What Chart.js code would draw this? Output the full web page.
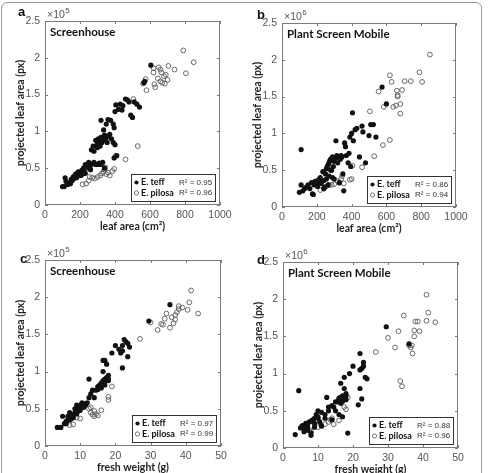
<!DOCTYPE html>
<html>
<head>
<meta charset="utf-8">
<script src="https://cdn.jsdelivr.net/npm/chart.js@4.4.0/dist/chart.umd.min.js"></script>
<style>
  html, body { margin: 0; padding: 0; background: #fff; }
  #fig { position: relative; width: 488px; height: 473px; overflow: hidden; }
  #frame { position: absolute; left: 1px; top: 2px; width: 481px; height: 520px;
           border: 1.5px solid #9a9a9a; border-radius: 6px; box-sizing: border-box; }
  .panel { position: absolute; }
</style>
</head>
<body>
<div id="fig">
  <div id="frame"></div>
  <div class="panel" id="pa"><canvas id="ca"></canvas></div>
  <div class="panel" id="pb"><canvas id="cb"></canvas></div>
  <div class="panel" id="pc"><canvas id="cc"></canvas></div>
  <div class="panel" id="pd"><canvas id="cd"></canvas></div>
</div>
<script>
// --- data (y in units of the axis multiplier) ---
// a: Screenhouse, leaf area vs projected area (x1e5)
const aTeffX = [100,110,115,120,130,140,145,150,155,160,165,170,175,180,185,190,195,200,205,210,215,220,225,230,230,240,250,250,260,260,270,280,290,300,310,320,330,340,
  265,275,280,290,290,300,300,305,310,315,320,325,330,340,345,350,355,360,370,380,390,400,395,410,
  320,335,350,360,375,390,395, 400,405,420,430,440,445,460,470,480,490,500,510,525,540, 565,570,605];
const aTeffY = [0.25,0.25,0.37,0.32,0.28,0.30,0.29,0.35,0.33,0.38,0.36,0.40,0.42,0.37,0.43,0.45,0.40,0.44,0.40,0.47,0.42,0.50,0.45,0.55,0.43,0.52,0.58,0.50,0.54,0.48,0.56,0.58,0.55,0.55,0.57,0.55,0.58,0.50,
  0.75,0.80,0.73,0.80,0.88,0.85,0.78,0.90,0.88,0.80,0.92,0.85,0.90,0.95,0.88,0.92,0.85,0.93,0.96,0.90,0.85,0.82,0.64,0.67,
  1.15,1.02,1.10,1.16,1.15,1.10,1.05, 1.27,1.36,1.30,1.37,1.29,1.35,1.44,1.43,1.40,1.22,1.19,1.40,1.37,1.33, 1.66,1.68,1.90];
const aPilX = [215,235,250,255,270,285,300,315,325,335,340,345,350,360,370,385,395,405,460,530,
  505,560,575,580,620,620,625,630,645,650,660,660,665,670,680,685,690,700,705,740,790,805,850];
const aPilY = [0.28,0.29,0.33,0.38,0.37,0.36,0.38,0.40,0.43,0.45,0.48,0.51,0.42,0.44,0.40,0.46,0.49,0.67,0.62,0.80,
  1.44,1.65,1.71,1.56,1.80,1.86,1.64,1.60,1.72,1.87,1.84,1.68,1.80,1.66,1.75,1.65,1.77,1.70,1.89,1.84,2.10,1.79,1.94];

// b: Plant Screen Mobile, leaf area (x1e6)
const bTeffX = [100,110,110,120,130,140,150,160,170,175,180,185,190,200,205,210,215,220,225,230,235,240,240,245,250,255,255,260,265,265,
  270,270,275,280,280,285,290,290,295,300,300,305,310,315,320,325,330,330,335,340,345,350,355,360,365,370,380,385,390,395,
  400,405,410,420,430,445,460,465,480,500,510,525,540,575,600];
const bTeffY = [0.20,0.30,0.78,0.22,0.25,0.27,0.30,0.25,0.33,0.18,0.17,0.30,0.35,0.33,0.28,0.37,0.36,0.40,0.32,0.35,0.48,0.25,0.36,0.27,0.45,0.52,0.38,0.55,0.57,0.30,
  0.60,0.42,0.63,0.65,0.50,0.50,0.68,0.40,0.55,0.62,0.38,0.66,0.90,0.70,0.60,0.68,0.67,0.33,0.65,0.70,0.68,0.45,0.22,0.87,0.82,0.70,0.60,0.73,0.95,0.55,
  1.00,1.28,0.90,1.05,1.07,0.68,1.10,1.02,0.60,0.97,1.12,1.12,0.95,1.63,1.40];
const bPilX = [220,240,255,270,285,300,320,330,340,345,355,390,400,405,460,530,
  505,555,580,585,620,620,630,640,655,660,665,665,680,680,690,705,740,790,805,850];
const bPilY = [0.23,0.25,0.28,0.30,0.30,0.31,0.35,0.33,0.38,0.42,0.32,0.37,0.38,0.56,0.54,0.69,
  1.30,1.57,0.84,1.36,0.91,1.79,1.70,1.36,1.38,1.58,1.50,1.52,1.40,1.27,1.59,1.71,1.71,1.83,1.70,2.07];

// c: Screenhouse, fresh weight (x1e5)
const cTeffX = [3.5,4.5,5,5.5,6,6,6.5,7,7,7,7.5,8,8,8.5,9,9,9,9.5,10,10,10.5,11,11.5,12,12.5,12.5,13,13.5,14,14.5,
  15,15.5,16,16,16.5,16.5,16.5,17,17,17,17.5,17.5,18,18,19,20,21,21.5,22,22,22,22.5,23,23.5,23.5,24,29.5,35.5,
  8.5,9.5,10,11,6.5,7.5,16.5,17,17.5,18,16,15];
const cTeffY = [0.25,0.25,0.40,0.30,0.33,0.30,0.35,0.38,0.35,0.45,0.42,0.40,0.38,0.45,0.48,0.43,0.55,0.52,0.55,0.48,0.58,0.57,0.55,0.58,0.65,0.90,0.70,0.75,0.65,0.75,
  0.80,0.82,0.85,0.78,0.88,1.00,1.15,0.90,1.15,0.82,0.92,1.10,0.95,0.88,1.25,1.35,1.30,1.25,1.05,1.35,1.28,1.43,1.40,1.38,1.20,1.33,1.68,1.90,
  0.50,0.47,0.52,0.52,0.40,0.37,0.85,0.87,0.88,0.90,0.83,0.76];
const cPilX = [7,8,9,10,12.5,13,13,13.5,14,14,14.5,15,16,18,18,19,27,30,32,33,33.5,34,34.5,35.5,36,36.5,37,37,37.5,38,38,39,40.5,41,41.5,43.5];
const cPilY = [0.28,0.29,0.38,0.37,0.50,0.45,0.52,0.42,0.40,0.47,0.43,0.41,0.48,0.62,0.66,0.80,1.44,1.66,1.56,1.64,1.63,1.71,1.78,1.59,1.73,1.65,1.70,1.76,1.80,1.88,1.84,1.86,1.83,1.93,2.09,1.78];

// d: Plant Screen Mobile, fresh weight (x1e6)
const dTeffX = [3.5,4.5,5,5.5,6,6.5,7,7,7.5,8,8,8.5,9,9,9.5,10,10,10.5,11,11,12,12,12.5,13,13,14,14,14.5,15,15,
  15.5,16,16,16.5,16.5,17,17,17.5,17.5,17.5,18,18,18.5,19,20,21.5,22,22,22,22.5,22.5,23,23,23.5,24,29.5,36,
  6,7,8,9,10,16,17,18,17,16.5];
const dTeffY = [0.18,0.77,0.27,0.30,0.22,0.33,0.28,0.24,0.35,0.17,0.20,0.38,0.33,0.28,0.45,0.50,0.40,0.35,0.48,0.30,0.45,0.40,0.68,0.55,0.50,0.57,0.38,0.55,0.62,0.50,
  0.62,0.65,0.45,0.87,0.60,0.70,0.42,0.68,0.80,0.95,0.73,0.65,0.20,1.00,1.10,0.58,0.80,1.27,1.05,1.07,0.66,1.10,1.15,0.95,0.93,1.63,1.40,
  0.28,0.32,0.36,0.40,0.42,0.67,0.66,0.70,0.63,0.68];
const dPilX = [7.5,8,10,11,12,13,13.5,14,14.5,16,17.5,18,18.5,26.5,30,32,33,33.5,34,34.5,36,36.5,36.8,37,37.5,37.5,37.8,38.5,39,41,41,41.5,43.5];
const dPilY = [0.24,0.22,0.28,0.29,0.32,0.35,0.38,0.40,0.32,0.37,0.55,0.52,0.68,1.29,1.48,1.35,1.57,0.90,0.83,1.78,1.38,1.35,1.38,1.27,1.58,1.50,1.70,1.70,1.57,1.71,2.06,1.82,1.69];

const yTicksMax = 2.5;
const speciesNames = ['E. teff', 'E. pilosa'];

// decorations MATLAB draws that Chart.js doesn't: full box, inner ticks, labels, legend box
const deco = {
  id: 'deco',
  afterDraw(chart, args, o) {
    const { ctx, chartArea: a, scales: { x, y } } = chart;
    ctx.save();
    ctx.strokeStyle = '#7a7a7a';
    ctx.lineWidth = 1;
    ctx.strokeRect(a.left + 0.5, a.top + 0.5, a.right - a.left - 1, a.bottom - a.top - 1);
    ctx.beginPath();
    x.ticks.forEach(t => {
      const px = Math.round(x.getPixelForValue(t.value)) + 0.5;
      ctx.moveTo(px, a.bottom); ctx.lineTo(px, a.bottom - 3);
      ctx.moveTo(px, a.top); ctx.lineTo(px, a.top + 3);
    });
    y.ticks.forEach(t => {
      const py = Math.round(y.getPixelForValue(t.value)) + 0.5;
      ctx.moveTo(a.left, py); ctx.lineTo(a.left + 3, py);
      ctx.moveTo(a.right, py); ctx.lineTo(a.right - 3, py);
    });
    ctx.stroke();

    // multiplier
    ctx.fillStyle = '#555';
    ctx.textBaseline = 'middle';
    ctx.textAlign = 'left';
    ctx.font = '10.5px "Liberation Sans"';
    const ex = a.left + 2, ey = a.top - 6;
    ctx.fillText('\u00d710', ex, ey);
    const w10 = ctx.measureText('\u00d710').width;
    ctx.font = '8px "Liberation Sans"';
    ctx.fillText(o.exp, ex + w10 + 0.5, ey - 4);

    // panel letter
    ctx.fillStyle = '#111';
    ctx.font = 'bold 13px "Liberation Sans"';
    ctx.fillText(o.letter, a.left + o.letterDx, a.top + o.letterDy);

    // panel title
    ctx.font = 'bold 11.5px Lato';
    ctx.fillText(o.title, a.left + 5, a.top + 11);

    // legend box
    const w = 84, h = 27;
    const lx = Math.round(a.right - 5 - w), ly = Math.round(a.bottom - 4 - h);
    ctx.fillStyle = '#fff';
    ctx.fillRect(lx, ly, w, h);
    ctx.strokeStyle = '#333';
    ctx.strokeRect(lx + 0.5, ly + 0.5, w, h);
    const rows = [ly + 8.5, ly + 19];
    rows.forEach((ry, i) => {
      ctx.beginPath();
      ctx.arc(lx + 5.5, ry, 2.1, 0, Math.PI * 2);
      if (i === 0) { ctx.fillStyle = '#111'; ctx.fill(); }
      else { ctx.strokeStyle = '#666'; ctx.lineWidth = 0.9; ctx.stroke(); }
      ctx.fillStyle = '#111';
      ctx.font = 'bold 9px Lato';
      ctx.fillText(speciesNames[i], lx + 10, ry);
      ctx.fillStyle = '#333';
      ctx.font = '8px "Liberation Sans"';
      ctx.fillText('R\u00b2 = ' + o.r2[i], lx + 48, ry);
    });
    ctx.restore();
  }
};

function makePanel(id, canvasId, area, teffX, teffY, pilX, pilY, xMax, xStep, xTitle, o) {
  const padL = 45, padT = 22, padR = 20, padB = 32;
  const div = document.getElementById(id);
  div.style.left = (area.l - padL) + 'px';
  div.style.top = (area.t - padT) + 'px';
  div.style.width = (area.w + padL + padR) + 'px';
  div.style.height = (area.h + padT + padB) + 'px';

  const tickFont = { family: 'Liberation Sans', size: 10.5 };
  new Chart(document.getElementById(canvasId), {
    type: 'scatter',
    data: {
      datasets: [{
        label: speciesNames[0],
        data: teffX.map((v, i) => ({ x: v, y: teffY[i] })),
        pointRadius: 2.6,
        pointBackgroundColor: '#111',
        pointBorderWidth: 0,
      }, {
        label: speciesNames[1],
        data: pilX.map((v, i) => ({ x: v, y: pilY[i] })),
        pointRadius: 2.4,
        pointBackgroundColor: 'rgba(255,255,255,0)',
        pointBorderColor: '#5a5a5a',
        pointBorderWidth: 0.9,
      }]
    },
    options: {
      responsive: true,
      maintainAspectRatio: false,
      animation: false,
      layout: { padding: { top: padT, right: padR, left: 0, bottom: 0 } },
      plugins: {
        legend: { display: false },
        tooltip: { enabled: false },
        deco: o
      },
      scales: {
        x: {
          type: 'linear', min: 0, max: xMax,
          ticks: { stepSize: xStep, padding: 4, color: '#555', font: tickFont, maxRotation: 0, callback: v => String(v) },
          grid: { display: false, drawTicks: false },
          border: { display: false },
          title: { display: true, text: xTitle, color: '#222', font: { family: 'Lato', weight: 'bold', size: 10.5 }, padding: { top: 0, bottom: 4 } },
          afterFit(s) { s.height = padB; }
        },
        y: {
          type: 'linear', min: 0, max: yTicksMax,
          ticks: { stepSize: 0.5, padding: 5, color: '#555', font: tickFont, callback: v => String(v) },
          grid: { display: false, drawTicks: false },
          border: { display: false },
          title: { display: true, text: 'projected leaf area (px)', color: '#222', font: { family: 'Lato', weight: 'bold', size: 10.5 }, padding: { top: 14, bottom: 0 } },
          afterFit(s) { s.width = padL; }
        }
      }
    },
    plugins: [deco]
  });
}

makePanel('pa', 'ca', { l: 45, t: 21, w: 175, h: 184 }, aTeffX, aTeffY, aPilX, aPilY, 1000, 200, 'leaf area (cm\u00b2)',
  { letter: 'a', letterDx: -27, letterDy: -9, title: 'Screenhouse', exp: '5', r2: ['0.95', '0.96'] });
makePanel('pb', 'cb', { l: 282, t: 23, w: 174, h: 184 }, bTeffX, bTeffY, bPilX, bPilY, 1000, 200, 'leaf area (cm\u00b2)',
  { letter: 'b', letterDx: -25, letterDy: -8, title: 'Plant Screen Mobile', exp: '6', r2: ['0.86', '0.94'] });
makePanel('pc', 'cc', { l: 45, t: 260, w: 176, h: 186 }, cTeffX, cTeffY, cPilX, cPilY, 50, 10, 'fresh weight (g)',
  { letter: 'c', letterDx: -25, letterDy: -1, title: 'Screenhouse', exp: '5', r2: ['0.97', '0.99'] });
makePanel('pd', 'cd', { l: 283, t: 262, w: 175, h: 186 }, dTeffX, dTeffY, dPilX, dPilY, 50, 10, 'fresh weight (g)',
  { letter: 'd', letterDx: -26, letterDy: -2, title: 'Plant Screen Mobile', exp: '6', r2: ['0.88', '0.96'] });
</script>
</body>
</html>
